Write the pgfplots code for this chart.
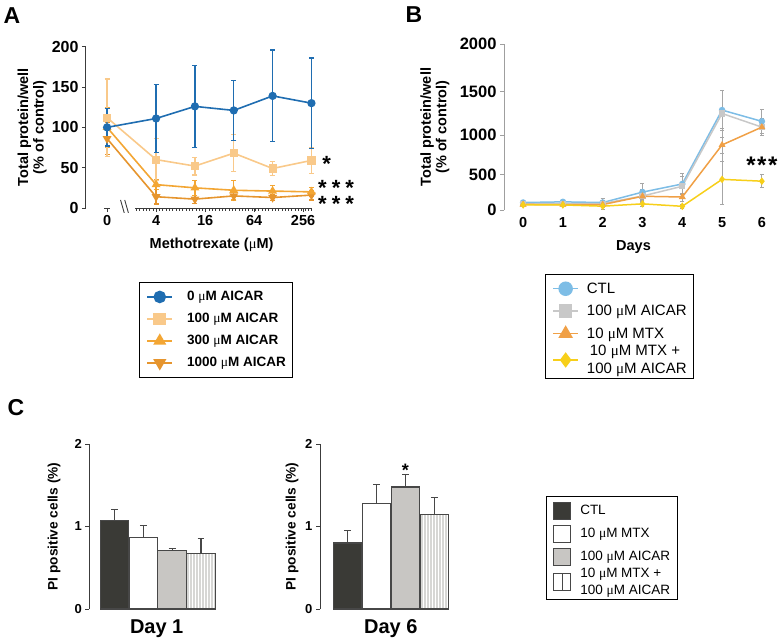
\documentclass[border=0pt]{standalone}
\usepackage{pgfplots}
\pgfplotsset{compat=1.18}
\usepackage{fontspec}
\setmainfont{Liberation Sans}
\newfontfamily\symfont{Liberation Serif}
\usetikzlibrary{patterns}

\definecolor{aBlue}{HTML}{1F6DB1}
\definecolor{aLight}{HTML}{F9C98A}
\definecolor{aMid}{HTML}{F3A634}
\definecolor{aDark}{HTML}{E6952E}
\definecolor{bCtl}{HTML}{7DBDE6}
\definecolor{bGray}{HTML}{C8C8C8}
\definecolor{bOrange}{HTML}{F0A046}
\definecolor{bYellow}{HTML}{F7CF1A}
\definecolor{cDark}{HTML}{3A3A36}
\definecolor{cGray}{HTML}{C8C6C3}
\definecolor{cStripe}{HTML}{D6D6D4}
\definecolor{cEdge}{HTML}{474747}
\definecolor{axisdark}{HTML}{3C3C3C}

\newcommand{\um}{{\symfont\mdseries μ}M}
\newcommand{\fTick}{\fontsize{14.5}{16}\selectfont\bfseries}
\newcommand{\fTickY}{\fontsize{16}{18}\selectfont\bfseries}
\newcommand{\fLab}{\fontsize{14.5}{15.5}\selectfont\bfseries}
\newcommand{\fLegA}{\fontsize{13.5}{16}\selectfont\bfseries}
\newcommand{\fLegB}{\fontsize{15}{18}\selectfont}
\newcommand{\fLegC}{\fontsize{13.5}{16.7}\selectfont}
\newcommand{\fStar}{\fontsize{22}{13}\selectfont\bfseries}
\newcommand{\fPanel}{\fontsize{23}{23}\selectfont\bfseries}
\newcommand{\fDay}{\fontsize{20}{22}\selectfont\bfseries}
\newcommand{\stars}{*\kern5pt*\kern5pt*}

\pgfplotsset{
  bigmark/.style={legend image code/.code={
    \draw[##1] (0pt,0pt) -- (25pt,0pt);
    \draw[##1, mark size=#1] plot coordinates {(12.5pt,0pt)};
  }},
  sqleg/.style={legend image code/.code={
    \draw[##1] (0pt,-8.5pt) rectangle (17pt,8.5pt);
  }},
}

\begin{document}
\begin{tikzpicture}
\path[use as bounding box] (0,0) rectangle (780pt,-641pt);

\node[font=\fPanel] at (12pt,-16pt) {A};
\node[font=\fPanel] at (414pt,-15pt) {B};
\node[font=\fPanel] at (16pt,-408pt) {C};

% ---------- A ----------
\begin{axis}[
  at={(86pt,-208pt)}, anchor=south west, scale only axis,
  width=231.8pt, height=161.3pt,
  xmin=-0.86, xmax=8.6, ymin=0, ymax=200,
  axis x line*=bottom, axis y line*=left,
  x axis line style={draw=none},
  y axis line style={axisdark, line width=1pt},
  every tick/.style={axisdark, line width=1pt},
  tick align=outside, major tick length=4pt, minor tick length=2.5pt,
  xtick={0,2,4,6,8}, xticklabels={0,4,16,64,256},
  minor xtick={1.2,1.335,...,8.3},
  ytick={0,50,100,150,200},
  xticklabel style={font=\fTick},
  yticklabel style={font=\fTickY},
  /pgf/number format/assume math mode=true,
  xlabel={Methotrexate (\um)},
  ylabel={Total protein/well\\(\% of control)},
  label style={font=\fLab, align=center},
  xlabel style={at={(axis description cs:0.542,-0.229)}, anchor=center},
  ylabel style={at={(axis description cs:-0.232,0.5)}, anchor=center},
  x filter/.expression={ln(max(x,1))/ln(2)},
  clip=false,
  reverse legend,
  legend cell align=left,
  legend style={at={(0.229,-0.459)}, anchor=north west, draw=black,
    line width=0.8pt, font=\fLegA, inner xsep=7pt, inner ysep=3.5pt,
    nodes={minimum height=22pt, inner sep=0pt},
    /tikz/every odd column/.append style={column sep=14pt}},
  error bars/y dir=both, error bars/y explicit,
]
\addplot[aDark, line width=1.6pt, mark=triangle*, mark size=3.6pt,
  mark options={rotate=180}, bigmark=6pt,
  error bars/error bar style={line width=1.2pt},
  error bars/error mark options={rotate=90, mark size=2.5pt, line width=1.2pt}]
  coordinates {(0,86) +- (0,20) (4,14) +- (0,9) (12,11) +- (0,5) (36,15) +- (0,5) (108,13) +- (0,4) (324,16) +- (0,6)};
\addlegendentry{1000 \um{} AICAR}
\addplot[aMid, line width=1.6pt, mark=triangle*, mark size=3.6pt, bigmark=6pt,
  error bars/error bar style={line width=1.2pt},
  error bars/error mark options={rotate=90, mark size=2.5pt, line width=1.2pt}]
  coordinates {(0,100) +- (0,25) (4,29) +- (0,6) (12,25) +- (0,9) (36,22) +- (0,12) (108,21) +- (0,7) (324,20) +- (0,5)};
\addlegendentry{300 \um{} AICAR}
\addplot[aLight, line width=1.6pt, mark=square*, mark size=3.3pt, bigmark=5.5pt,
  error bars/error bar style={line width=1.2pt},
  error bars/error mark options={rotate=90, mark size=2.5pt, line width=1.2pt}]
  coordinates {(0,112) +- (0,48) (4,60) +- (0,26) (12,52) +- (0,11) (36,68) +- (0,23) (108,49) +- (0,9) (324,59) +- (0,16)};
\addlegendentry{100 \um{} AICAR}
\addplot[aBlue, line width=1.6pt, mark=*, mark size=3.3pt, bigmark=5.5pt,
  error bars/error bar style={line width=1.2pt},
  error bars/error mark options={rotate=90, mark size=2.5pt, line width=1.2pt}]
  coordinates {(0,100) +- (0,23) (4,111) +- (0,42) (12,126) +- (0,51) (36,121) +- (0,37) (108,139) +- (0,57) (324,130) +- (0,56)};
\addlegendentry{0 \um{} AICAR}
\draw[axisdark, line width=1pt] (axis cs:1.14,0) -- (axis cs:8.34,0);
\draw[axisdark, line width=1pt] (axis cs:-0.12,0) -- (axis cs:0.12,0);
\draw[axisdark, line width=0.9pt] (axis cs:0.55,10) -- (axis cs:0.70,-6);
\draw[axisdark, line width=0.9pt] (axis cs:0.72,10) -- (axis cs:0.87,-6);
\node[font=\fStar, anchor=west, inner sep=0pt] at (axis cs:8.78,55) {*};
\node[font=\fStar, anchor=west, inner sep=0pt, align=left] at (axis cs:8.61,15) {\stars\\\stars};
\end{axis}

% ---------- B ----------
\begin{axis}[
  at={(504pt,-210pt)}, anchor=south west, scale only axis,
  width=269.8pt, height=166pt,
  xmin=-0.48, xmax=6.3, ymin=0, ymax=2000,
  y coord trafo/.code={\pgfmathparse{(#1)*(1+(#1)/8375)}},
  axis x line*=bottom, axis y line*=left,
  x axis line style={draw=none}, xtick style={draw=none},
  y axis line style={gray!75, line width=0.8pt},
  ytick style={gray!75, line width=0.8pt},
  tick align=outside, major tick length=4pt,
  xtick={0,1,2,3,4,5,6},
  ytick={0,500,1000,1500,2000}, yticklabels={0,500,1000,1500,2000},
  xticklabel style={font=\fTick},
  yticklabel style={font=\fontsize{16.5}{18}\selectfont\bfseries},
  /pgf/number format/assume math mode=true,
  xlabel={Days},
  ylabel={Total protein/well\\(\% of control)},
  label style={font=\fLab, align=center},
  xlabel style={at={(axis description cs:0.48,-0.223)}, anchor=center},
  ylabel style={at={(axis description cs:-0.256,0.5)}, anchor=center},
  clip=false,
  legend cell align=left,
  legend style={at={(0.152,-0.386)}, anchor=north west, draw=black,
    line width=0.8pt, font=\fLegB, inner xsep=7pt, inner ysep=3pt,
    nodes={minimum height=22.5pt, inner sep=0pt, align=left},
    /tikz/every odd column/.append style={column sep=8pt}},
  error bars/y dir=both, error bars/y explicit,
  error bars/error bar style={gray!70, line width=0.8pt},
  error bars/error mark options={gray!70, rotate=90, mark size=2pt, line width=0.8pt},
]
\addplot[bCtl, line width=1.5pt, mark=*, mark size=2.5pt, bigmark=6.5pt]
  coordinates {(0,110) +- (0,20) (1,120) +- (0,25) (2,110) +- (0,60) (3,259) +- (0,130) (4,372) +- (0,160) (5,1292) +- (0,300) (6,1162) +- (0,180)};
\addlegendentry{CTL}
\addplot[bGray, line width=1.5pt, mark=square*, mark size=2.3pt, bigmark=6pt]
  coordinates {(0,91) +- (0,20) (1,95) +- (0,30) (2,95) +- (0,80) (3,204) +- (0,100) (4,340) +- (0,150) (5,1253) +- (0,350) (6,1094) +- (0,130)};
\addlegendentry{100 \um{} AICAR}
\addplot[bOrange, line width=1.5pt, mark=triangle*, mark size=2.6pt, bigmark=7pt]
  coordinates {(0,82) +- (0,15) (1,80) +- (0,15) (2,80) +- (0,40) (3,200) +- (0,40) (4,190) +- (0,60) (5,879) +- (0,250) (6,1094) +- (0,100)};
\addlegendentry{10 \um{} MTX}
\addplot[bYellow, line width=1.5pt, mark=diamond*, mark size=2.6pt, bigmark=6.5pt]
  coordinates {(0,75) +- (0,10) (1,75) +- (0,10) (2,57) +- (0,15) (3,91) +- (0,40) (4,55) +- (0,30) (5,435) +- (0,380) (6,410) +- (0,95)};
\addlegendentry{\hspace{3pt}10 \um{} MTX +\\100 \um{} AICAR}
\node[font=\fontsize{24}{24}\selectfont\bfseries, anchor=center, inner sep=0pt] at (axis cs:6,620) {*\kern1.5pt*\kern1.5pt*};
\end{axis}

% ---------- C, Day 1 ----------
\begin{axis}[
  at={(89.3pt,-609pt)}, anchor=south west, scale only axis,
  width=128.9pt, height=165pt,
  xmin=-0.875, xmax=3.6, ymin=0, ymax=2,
  axis x line*=bottom, axis y line*=left,
  x axis line style={draw=none}, xtick=\empty,
  y axis line style={axisdark, line width=1pt},
  ytick style={axisdark, line width=1pt},
  tick align=outside, major tick length=4pt,
  ytick={0,1,2},
  tick label style={font=\fontsize{13}{15}\selectfont\bfseries},
  /pgf/number format/assume math mode=true,
  xlabel={Day 1}, xlabel style={font=\fDay, at={(axis description cs:0.523,-0.12)}, anchor=center},
  ylabel={PI positive cells (\%)},
  ylabel style={font=\fontsize{13.7}{15}\selectfont\bfseries, at={(axis description cs:-0.274,0.5)}, anchor=center},
  clip=false,
  error bars/y dir=plus, error bars/y explicit,
  error bars/error bar style={cEdge, line width=1.2pt},
  error bars/error mark options={cEdge, rotate=90, mark size=3.4pt, line width=1.2pt},
]
\addplot[ybar, bar width=28.6pt, fill=cDark, draw=cEdge, line width=1.2pt] coordinates {(0,1.07) +- (0,0.14)};
\addplot[ybar, bar width=28.6pt, fill=white, draw=cEdge, line width=1.2pt] coordinates {(1,0.87) +- (0,0.14)};
\addplot[ybar, bar width=28.6pt, fill=cGray, draw=cEdge, line width=1.2pt] coordinates {(2,0.71) +- (0,0.02)};
\addplot[ybar, bar width=28.6pt, fill=cStripe, draw=cEdge, line width=1.2pt,
  postaction={pattern=vertical lines, pattern color=white}] coordinates {(3,0.67) +- (0,0.18)};
\end{axis}

% ---------- C, Day 6 ----------
\begin{axis}[
  at={(320pt,-609pt)}, anchor=south west, scale only axis,
  width=131.5pt, height=165pt,
  xmin=-0.965, xmax=3.6, ymin=0, ymax=2,
  axis x line*=bottom, axis y line*=left,
  x axis line style={draw=none}, xtick=\empty,
  y axis line style={axisdark, line width=1pt},
  ytick style={axisdark, line width=1pt},
  tick align=outside, major tick length=4pt,
  ytick={0,1,2},
  tick label style={font=\fontsize{13}{15}\selectfont\bfseries},
  /pgf/number format/assume math mode=true,
  xlabel={Day 6}, xlabel style={font=\fDay, at={(axis description cs:0.538,-0.12)}, anchor=center},
  ylabel={PI positive cells (\%)},
  ylabel style={font=\fontsize{13.7}{15}\selectfont\bfseries, at={(axis description cs:-0.213,0.5)}, anchor=center},
  clip=false,
  error bars/y dir=plus, error bars/y explicit,
  error bars/error bar style={cEdge, line width=1.2pt},
  error bars/error mark options={cEdge, rotate=90, mark size=3.4pt, line width=1.2pt},
  legend cell align=left,
  legend style={at={(1.716,0.685)}, anchor=north west, draw=black,
    line width=0.8pt, font=\fLegC, inner xsep=7pt, inner ysep=3pt,
    nodes={minimum height=23pt, inner sep=0pt, align=left},
    /tikz/every odd column/.append style={column sep=9pt}},
]
\addplot[ybar, bar width=28.6pt, fill=cDark, draw=cEdge, line width=1.2pt, sqleg] coordinates {(0,0.80) +- (0,0.15)};
\addlegendentry{CTL}
\addplot[ybar, bar width=28.6pt, fill=white, draw=cEdge, line width=1.2pt, sqleg] coordinates {(1,1.28) +- (0,0.23)};
\addlegendentry{10 \um{} MTX}
\addplot[ybar, bar width=28.6pt, fill=cGray, draw=cEdge, line width=1.2pt, sqleg] coordinates {(2,1.48) +- (0,0.15)};
\addlegendentry{100 \um{} AICAR}
\addplot[ybar, bar width=28.6pt, fill=cStripe, draw=cEdge, line width=1.2pt,
  postaction={pattern=vertical lines, pattern color=white},
  legend image code/.code={
    \draw[draw=cEdge, line width=1.2pt, fill=white] (0pt,-8.5pt) rectangle (17pt,8.5pt);
    \draw[cEdge, line width=1.2pt] (8.5pt,-8.5pt) -- (8.5pt,8.5pt);
  }] coordinates {(3,1.15) +- (0,0.20)};
\addlegendentry{10 \um{} MTX +\\100 \um{} AICAR}
\node[font=\fontsize{18}{18}\selectfont\bfseries, anchor=base] at (axis cs:2,1.61) {*};
\end{axis}
\end{tikzpicture}
\end{document}
